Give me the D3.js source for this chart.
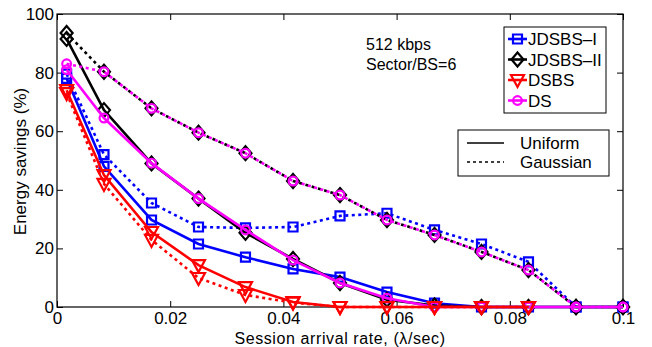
<!DOCTYPE html>
<html>
<head>
<meta charset="utf-8">
<script src="https://cdn.jsdelivr.net/npm/d3@7"></script>
<style>
  body { margin: 0; background: #fff; }
  svg { font-family: "Liberation Sans", Arial, sans-serif; }
</style>
</head>
<body>
<svg id="chart"></svg>
<script>
// arrival rates (lambda/sec)
var rates = [0.0017, 0.0083, 0.0167, 0.025, 0.0333, 0.0417, 0.05, 0.0583, 0.0667, 0.075, 0.0833, 0.0917, 0.1];
var xTicks = [0, 0.02, 0.04, 0.06, 0.08, 0.1];
var yTicks = [0, 20, 40, 60, 80, 100];

var jdsbs1Uniform = [78, 48, 29.7, 21.5, 17, 13, 10.2, 5.1, 1.3, 0, 0, 0, 0];
var jdsbs1Gauss = [79.5, 52, 35.5, 27.3, 27, 27.3, 31.1, 32, 26.3, 21.5, 15.4, 0, 0];
var jdsbs2Uniform = [91.5, 67.2, 49, 37, 25.3, 16.4, 8.2, 2.5, 0.5, 0, 0, 0, 0];
var jdsbs2Gauss = [93.5, 80.3, 67.8, 59.5, 52.5, 43, 38.2, 29.7, 24.6, 18.8, 12.6, 0, 0];
var dsbsUniform = [74, 45, 25.6, 14.3, 6.8, 1.7, 0, 0, 0, 0, 0];
var dsbsGauss = [73, 42, 22.9, 9.9, 4.1, 1.5, 0, 0, 0, 0, 0];
var dsUniform = [81, 64.5, 49.1, 37, 26.3, 16, 8.2, 3, 0, 0, 0, 0, 0];
var dsGauss = [83, 80.3, 67.8, 59.5, 52.5, 43, 38.2, 29.7, 24.6, 18.8, 12.6, 0, 0];

var names = ['JDSBS\u2013I', 'JDSBS\u2013II', 'DSBS', 'DS'];
var colors = ['#0000ff', '#000000', '#ff0000', '#ff00ff'];
var markers = ['square', 'diamond', 'triangle', 'circle'];

var width = 652, height = 347;
var margin = {left: 57, right: 29, top: 14, bottom: 40};

var svg = d3.select('#chart').attr('width', width).attr('height', height);

var x = d3.scaleLinear().domain([0, 0.1]).range([margin.left, width - margin.right]);
var y = d3.scaleLinear().domain([0, 100]).range([height - margin.bottom, margin.top]);

var x0 = x(0), x1 = x(0.1), y0 = y(0), y1 = y(100);

// axes, MATLAB style: ticks pointing inward on all four sides
function tickFmt(d) { return d === 0 ? '0' : d3.format('.2~f')(d); }
svg.append('g').attr('transform', 'translate(0,' + y0 + ')')
  .call(d3.axisBottom(x).tickValues(xTicks).tickSize(-6).tickPadding(5).tickFormat(tickFmt));
svg.append('g').attr('transform', 'translate(0,' + y1 + ')')
  .call(d3.axisTop(x).tickValues(xTicks).tickSize(-6).tickFormat(''));
svg.append('g').attr('transform', 'translate(' + x0 + ',0)')
  .call(d3.axisLeft(y).tickValues(yTicks).tickSize(-6).tickPadding(3));
svg.append('g').attr('transform', 'translate(' + x1 + ',0)')
  .call(d3.axisRight(y).tickValues(yTicks).tickSize(-6).tickFormat(''));
svg.selectAll('.domain').remove();
svg.selectAll('.tick line').attr('stroke', '#000').attr('stroke-width', 1);
svg.selectAll('.tick text').attr('font-size', 17).attr('fill', '#000')
  .attr('font-family', '"Liberation Sans", Arial, sans-serif');
svg.append('rect').attr('x', x0).attr('y', y1).attr('width', x1 - x0).attr('height', y0 - y1)
  .attr('fill', 'none').attr('stroke', '#000').attr('stroke-width', 1.2);

svg.append('text').attr('x', (x0 + x1) / 2).attr('y', 343.5).attr('text-anchor', 'middle')
  .attr('font-size', 16).attr('letter-spacing', 0.6).text('Session arrival rate, (\u03bb/sec)');
svg.append('text').attr('transform', 'translate(26,' + ((y0 + y1) / 2 + 1) + ') rotate(-90)')
  .attr('text-anchor', 'middle').attr('font-size', 17).text('Energy savings (%)');

function markerPath(type) {
  if (type === 'square') return 'M-4.5,-4.5H4.5V4.5H-4.5Z';
  if (type === 'diamond') return 'M0,-7L6,0L0,7L-6,0Z';
  if (type === 'triangle') return 'M-6.5,-5H6.5L0,7Z';
  return d3.symbol().type(d3.symbolCircle).size(60)();
}

function drawSeries(values, i, dashed) {
  var pts = values.map(function(v, k) { return [rates[k], v]; });
  var line = d3.line().x(function(d) { return x(d[0]); }).y(function(d) { return y(d[1]); });
  svg.append('path').datum(pts).attr('d', line).attr('fill', 'none')
    .attr('stroke', colors[i]).attr('stroke-width', 2.6)
    .attr('stroke-dasharray', dashed ? '3,3.5' : null);
  svg.append('g').selectAll('path').data(pts).enter().append('path')
    .attr('transform', function(d) { return 'translate(' + x(d[0]) + ',' + y(d[1]) + ')'; })
    .attr('d', markerPath(markers[i])).attr('fill', 'none')
    .attr('stroke', colors[i]).attr('stroke-width', 2.2);
}

drawSeries(jdsbs1Uniform, 0, false);
drawSeries(jdsbs1Gauss, 0, true);
drawSeries(jdsbs2Uniform, 1, false);
drawSeries(jdsbs2Gauss, 1, true);
drawSeries(dsUniform, 3, false);
drawSeries(dsGauss, 3, true);
drawSeries(dsbsUniform, 2, false);
drawSeries(dsbsGauss, 2, true);

// annotation
svg.append('text').attr('x', 366).attr('y', 50).attr('font-size', 16).text('512 kbps');
svg.append('text').attr('x', 366).attr('y', 70).attr('font-size', 16).text('Sector/BS=6');

// series legend
var leg = svg.append('g');
leg.append('rect').attr('x', 504).attr('y', 27).attr('width', 102).attr('height', 86)
  .attr('fill', '#fff').attr('stroke', '#000').attr('stroke-width', 1);
names.forEach(function(n, i) {
  var ly = 39 + i * 20.5;
  leg.append('line').attr('x1', 508).attr('x2', 527).attr('y1', ly).attr('y2', ly)
    .attr('stroke', colors[i]).attr('stroke-width', 2.6);
  leg.append('path').attr('transform', 'translate(517.5,' + ly + ')').attr('d', markerPath(markers[i]))
    .attr('fill', 'none').attr('stroke', colors[i]).attr('stroke-width', 2.2);
  leg.append('text').attr('x', 528).attr('y', ly + 6).attr('font-size', 17).text(n);
});

// line style legend
var leg2 = svg.append('g');
leg2.append('rect').attr('x', 458).attr('y', 130).attr('width', 151).attr('height', 46)
  .attr('fill', '#fff').attr('stroke', '#000').attr('stroke-width', 1);
[['Uniform', false], ['Gaussian', true]].forEach(function(s, i) {
  var ly = 143 + i * 19;
  leg2.append('line').attr('x1', 467).attr('x2', 504).attr('y1', ly).attr('y2', ly)
    .attr('stroke', '#000').attr('stroke-width', 1.5).attr('stroke-dasharray', s[1] ? '3,3' : null);
  leg2.append('text').attr('x', 520).attr('y', ly + 6).attr('font-size', 17).text(s[0]);
});
</script>
</body>
</html>
